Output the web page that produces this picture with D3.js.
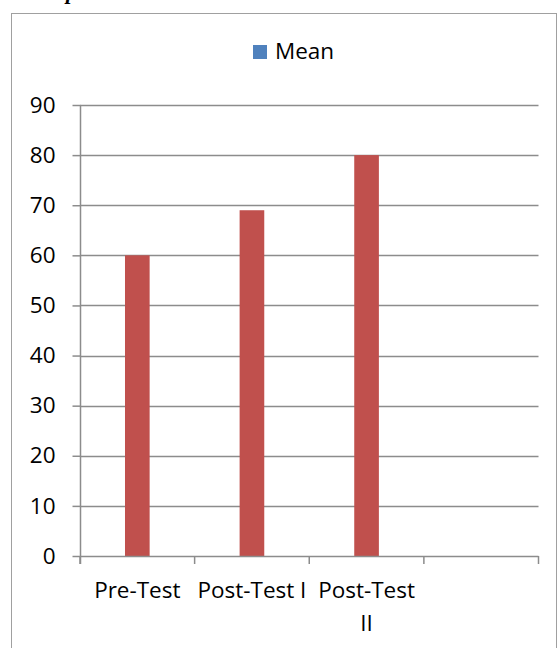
<!DOCTYPE html>
<html><head><meta charset="utf-8">
<script src="https://cdn.jsdelivr.net/npm/d3@7"></script>
<style>html,body{margin:0;padding:0;background:#fff;overflow:hidden}</style>
</head><body>
<svg id="c" width="559" height="648"></svg>
<script>
const categories = ["Pre-Test", "Post-Test I", "Post-Test II", ""];
const meanValues = [60, 69, 80, null];
const yTicks = [0, 10, 20, 30, 40, 50, 60, 70, 80, 90];
const seriesName = "Mean";

const svg = d3.select("#c");
const font = "'Open Sans', sans-serif";
const fs = 22.5;
const grid = "#8c8c8c";

// partially visible heading above the chart frame
svg.append("text").attr("x", 66).attr("y", -1.5)
  .attr("font-family", "'Liberation Serif', serif").attr("font-weight", "bold")
  .attr("font-style", "italic").attr("font-size", 22).attr("fill", "#000").text("p");

// frame
svg.append("rect").attr("x", 11.5).attr("y", 13.5).attr("width", 545).attr("height", 700)
  .attr("fill", "none").attr("stroke", "#a0a0a0").attr("stroke-width", 1);

const m = {left: 80, right: 538.5, top: 105, bottom: 556};
const x = d3.scaleBand().domain(categories.map((d, i) => i)).range([m.left, m.right]);
const y = d3.scaleLinear().domain([0, 90]).range([m.bottom, m.top]);

// gridlines
svg.append("g").selectAll("line").data(yTicks.filter(t => t > 0)).join("line")
  .attr("x1", m.left).attr("x2", m.right)
  .attr("y1", d => Math.round(y(d)) + 0.5).attr("y2", d => Math.round(y(d)) + 0.5)
  .attr("stroke", grid).attr("stroke-width", 1.5);

// bars
const bw = x.bandwidth() * 0.215;
svg.append("g").selectAll("rect").data(meanValues.map((v, i) => ({v, i})).filter(d => d.v != null)).join("rect")
  .attr("x", d => x(d.i) + x.bandwidth() / 2 - bw / 2)
  .attr("width", bw)
  .attr("y", d => y(d.v))
  .attr("height", d => y(0) - y(d.v))
  .attr("fill", "#C0504D");

// y axis
const yAxis = d3.axisLeft(y).tickValues(yTicks).tickSize(8).tickPadding(17);
const gy = svg.append("g").attr("transform", `translate(${m.left + 0.5},0)`).call(yAxis);
gy.select(".domain").attr("stroke", grid).attr("stroke-width", 1.5).attr("d", `M0,${m.top}V${m.bottom + 8}`);
gy.selectAll(".tick line").attr("stroke", grid).attr("stroke-width", 1.5);
gy.selectAll(".tick text").attr("font-family", font).attr("font-size", fs).attr("fill", "#000");

// x axis
const xEdges = categories.map((d, i) => x(i)).concat([m.right]);
const gx = svg.append("g");
gx.append("line").attr("x1", m.left).attr("x2", m.right)
  .attr("y1", m.bottom + 0.5).attr("y2", m.bottom + 0.5).attr("stroke", grid).attr("stroke-width", 1.5);
gx.selectAll("line.t").data(xEdges).join("line").attr("class", "t")
  .attr("x1", d => d).attr("x2", d => d)
  .attr("y1", m.bottom).attr("y2", m.bottom + 8).attr("stroke", grid).attr("stroke-width", 1.5);

// category labels with wrapping
categories.forEach((c, i) => {
  if (!c) return;
  const cx = x(i) + x.bandwidth() / 2;
  const t = gx.append("text").attr("x", cx).attr("y", 598).attr("text-anchor", "middle")
    .attr("font-family", font).attr("font-size", fs).attr("fill", "#000").text(c);
  if (t.node().getComputedTextLength() > x.bandwidth() - 2) {
    const words = c.split(" ");
    const last = words.pop();
    t.text(words.join(" "));
    gx.append("text").attr("x", cx).attr("y", 631).attr("text-anchor", "middle")
      .attr("font-family", font).attr("font-size", fs).attr("fill", "#000").text(last);
  }
});

// legend
const lg = svg.append("g").attr("transform", "translate(253,45)");
lg.append("rect").attr("width", 14).attr("height", 14).attr("fill", "#4F81BD");
lg.append("text").attr("x", 22).attr("y", 14).attr("font-family", font).attr("font-size", fs)
  .attr("fill", "#000").text(seriesName);
</script>
</body></html>
